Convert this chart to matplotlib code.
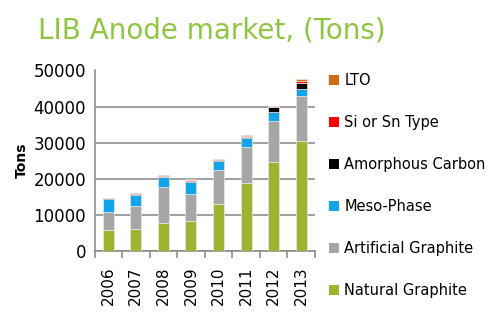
import numpy as np
import matplotlib.pyplot as plt
from matplotlib.patches import Patch

years = ['2006', '2007', '2008', '2009', '2010', '2011', '2012', '2013']
natural = [5800, 6200, 7800, 8200, 13100, 18900, 24600, 30500]
artificial = [4900, 6400, 10000, 7600, 9400, 9900, 11400, 12500]
meso = [3800, 2900, 2700, 3400, 2400, 2400, 2500, 1800]
amorphous = [150, 200, 100, 100, 300, 300, 1300, 1800]
si_sn = [150, 400, 300, 500, 200, 400, 300, 500]
lto = [0, 100, 100, 100, 0, 100, 100, 500]

series = [
    ('Natural Graphite', natural, '#9bb531'),
    ('Artificial Graphite', artificial, '#a6a6a6'),
    ('Meso-Phase', meso, '#12a4ea'),
    ('Amorphous Carbon', amorphous, '#000000'),
    ('Si or Sn Type', si_sn, '#ff0000'),
    ('LTO', lto, '#d46b12'),
]

fig = plt.figure(figsize=(4.99, 3.21), dpi=100)
ax = fig.add_axes([94.5 / 499, 1 - 251 / 321, 220.5 / 499, 180.5 / 321])

x = np.arange(len(years))
bottom = np.zeros(len(years))
for name, vals, col in series:
    vals = np.array(vals, dtype=float)
    ax.bar(x, vals, width=0.4, bottom=bottom, color=col,
           edgecolor='#e8e8e8', linewidth=0.5, zorder=3)
    bottom += vals

ax.set_ylim(0, 50000)
ax.set_xlim(-0.5, len(years) - 0.5)
ax.set_yticks(np.arange(0, 50001, 10000))
ax.yaxis.grid(True, color='#868686', linewidth=1.1, zorder=0)
ax.set_axisbelow(True)
for s in ['top', 'right']:
    ax.spines[s].set_visible(False)
ax.spines['left'].set_color('#868686')
ax.spines['bottom'].set_color('#868686')
ax.spines['left'].set_linewidth(1.1)
ax.spines['bottom'].set_linewidth(1.1)

ax.set_xticks(x)
ax.set_xticklabels(years, rotation=90, fontsize=11)
ax.tick_params(axis='x', length=0, pad=11)
ax.set_xticks(np.arange(-0.5, len(years)), minor=True)
ax.tick_params(axis='x', which='minor', length=5, color='#868686', width=1.1)
ax.tick_params(axis='y', length=0, labelsize=12, pad=6)
ax.set_ylabel('Tons', fontsize=10, fontweight='bold', labelpad=3)

handles = [Patch(facecolor=c, edgecolor='none', label=n) for n, v, c in series[::-1]]
fig.legend(handles=handles, loc='upper left', bbox_to_anchor=(323 / 499, 1 - 67 / 321),
           frameon=False, fontsize=10.5, handlelength=0.7, handleheight=0.7,
           handletextpad=0.35, labelspacing=1.85, borderaxespad=0)

fig.text(38 / 499, 1 - 30 / 321, 'LIB Anode market, (Tons)', fontsize=20,
         color='#8fc641', va='center', ha='left')

fig.savefig('out.png', dpi=100)
